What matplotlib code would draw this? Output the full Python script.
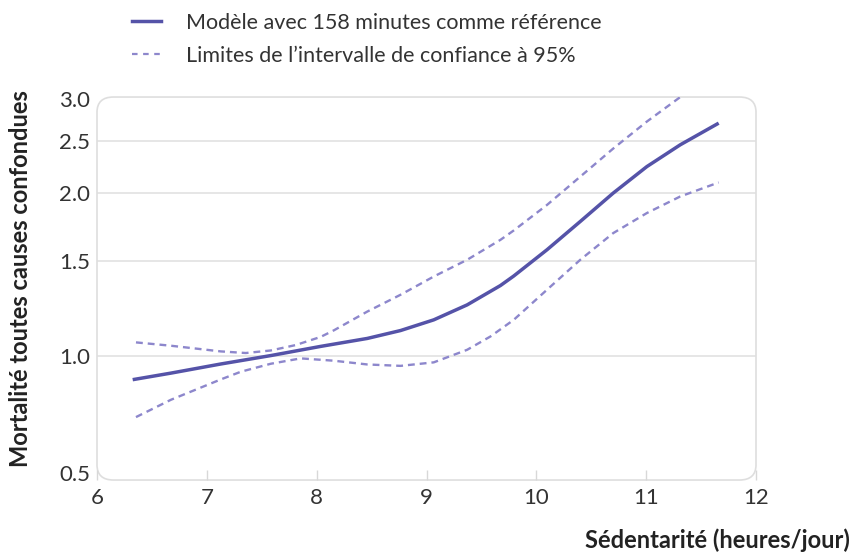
import numpy as np
import matplotlib
matplotlib.use("Agg")
import matplotlib.pyplot as plt
from matplotlib.patches import FancyBboxPatch
from matplotlib.lines import Line2D

plt.rcParams['font.family'] = ['Lato', 'DejaVu Sans']

# data (sedentary hours/day -> relative mortality)
x_model = [6.325, 6.673, 7.127, 7.582, 8.036, 8.461, 8.764, 9.066, 9.370, 9.673, 9.794,
           10.097, 10.40, 10.70, 11.006, 11.31, 11.66]
y_model = [0.897, 0.925, 0.964, 1.000, 1.040, 1.076, 1.113, 1.165, 1.242, 1.349, 1.405,
           1.572, 1.774, 2.003, 2.243, 2.462, 2.701]

x_upper = [6.355, 6.673, 7.127, 7.355, 7.582, 7.809, 8.036, 8.157, 8.461, 8.764, 9.066,
           9.370, 9.673, 9.794, 10.097, 10.40, 10.70, 11.006, 11.325]
y_upper = [1.058, 1.043, 1.018, 1.011, 1.022, 1.046, 1.083, 1.114, 1.207, 1.297, 1.402,
           1.506, 1.640, 1.707, 1.904, 2.149, 2.423, 2.719, 3.035]

x_lower = [6.355, 6.673, 7.127, 7.31, 7.582, 7.855, 8.157, 8.461, 8.764, 9.066, 9.370,
           9.582, 9.794, 10.097, 10.40, 10.70, 11.006, 11.31, 11.66]
y_lower = [0.737, 0.811, 0.898, 0.931, 0.965, 0.988, 0.978, 0.962, 0.956, 0.971, 1.025,
           1.085, 1.165, 1.325, 1.506, 1.688, 1.839, 1.974, 2.096]

xticks = [6, 7, 8, 9, 10, 11, 12]
yticks = [0.5, 1.0, 1.5, 2.0, 2.5, 3.0]
gridlines = [1.0, 1.5, 2.0, 2.5]

solid_col = '#5553a8'
dash_col = '#8d87cc'
text_col = '#333333'


# log above 1, linear below (the printed axis is squeezed that way)
def fwd(y):
    y = np.asarray(y, dtype=float)
    return np.where(y >= 1, np.log(np.maximum(y, 1e-9)), y - 1)


def inv(u):
    u = np.asarray(u, dtype=float)
    return np.where(u >= 0, np.exp(np.minimum(u, 50)), u + 1)


fig = plt.figure(figsize=(8.53, 5.57), dpi=100)
ax = fig.add_axes([0.1137, 0.1382, 0.7726, 0.6876])
ax.set_yscale('function', functions=(fwd, inv))
ax.set_xlim(6, 12)
ax.set_ylim(0.468, 3.02)

for s in ax.spines.values():
    s.set_visible(False)
frame = FancyBboxPatch((0, 0), 1, 1, boxstyle='round,pad=0,rounding_size=0.025',
                       transform=ax.transAxes, fill=False, edgecolor='#dedede',
                       linewidth=1.2, clip_on=False, mutation_aspect=1.6)
ax.add_patch(frame)

for g in gridlines:
    ax.axhline(g, color='#e2e2e2', linewidth=1.2, zorder=0)

ax.plot(x_upper, y_upper, '--', color=dash_col, linewidth=1.7, dashes=(2.9, 2.1))
ax.plot(x_lower, y_lower, '--', color=dash_col, linewidth=1.7, dashes=(2.9, 2.1))
ax.plot(x_model, y_model, '-', color=solid_col, linewidth=2.5, solid_capstyle='butt')

ax.set_xticks(xticks)
ax.set_xticklabels([str(t) for t in xticks])
ax.set_yticks(yticks)
ax.set_yticklabels(['%.1f' % t for t in yticks])
ax.yaxis.set_minor_locator(matplotlib.ticker.NullLocator())
ax.tick_params(axis='x', direction='in', length=7, color='#d8d8d8', width=1,
               labelsize=16, labelcolor=text_col, pad=6)
ax.tick_params(axis='y', length=0, labelsize=16, labelcolor=text_col, pad=5)

fig.text(0.024, 0.5, 'Mortalité toutes causes confondues', rotation=90,
         ha='center', va='center', fontsize=17, fontweight='bold', color='#222222')
fig.text(0.996, 0.03, 'Sédentarité (heures/jour)', ha='right', va='center',
         fontsize=17, fontweight='bold', color='#222222')

handles = [Line2D([], [], color=solid_col, linewidth=2.5),
           Line2D([], [], color=dash_col, linewidth=1.6, linestyle='--', dashes=(2.5, 2.5))]
labels = ['Modèle avec 158 minutes comme référence',
          'Limites de l\u2019intervalle de confiance à 95%']
leg = ax.legend(handles, labels, loc='upper left', bbox_to_anchor=(0.132, 1.012),
                bbox_transform=fig.transFigure, frameon=False, fontsize=15.5,
                handlelength=1.35, handletextpad=1.15, labelspacing=0.6)
for t in leg.get_texts():
    t.set_color(text_col)

fig.savefig('out.png', dpi=100)
